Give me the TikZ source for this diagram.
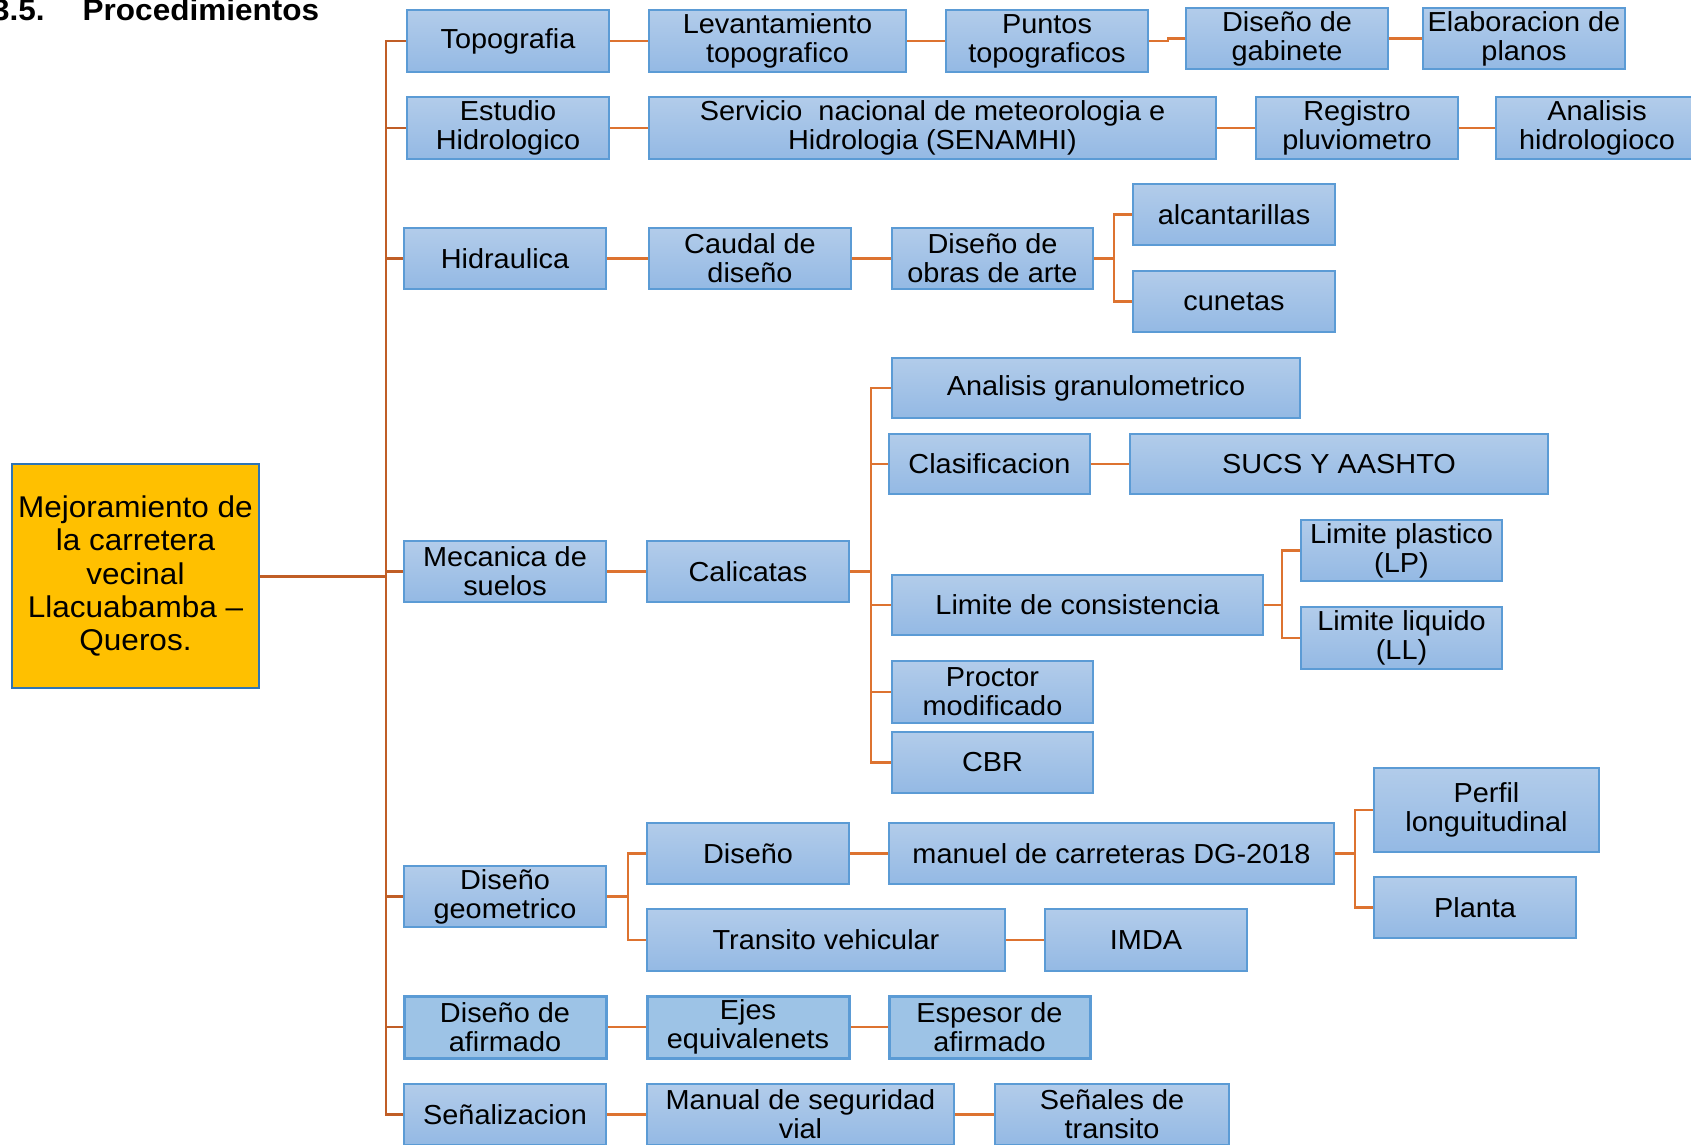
\documentclass[tikz,border=0pt]{standalone}
\usepackage{fontspec}
\setmainfont{Liberation Sans}[FakeStretch=1.05]
\usetikzlibrary{backgrounds}
\definecolor{boxtop}{RGB}{178,204,234}
\definecolor{boxbot}{RGB}{148,185,228}
\definecolor{boxline}{RGB}{91,155,213}
\definecolor{flatfill}{RGB}{157,195,230}
\definecolor{rootfill}{RGB}{255,192,0}
\definecolor{rootline}{RGB}{46,117,182}
\definecolor{trunkcol}{RGB}{192,94,38}
\definecolor{conncol}{RGB}{221,115,48}
\begin{document}
\begin{tikzpicture}[x=1pt,y=-1pt,
  box/.style={draw=boxline, line width=1.5pt, top color=boxtop, bottom color=boxbot,
    inner sep=2pt, align=center, font=\fontsize{27.5}{29}\selectfont},
  flatbox/.style={box, top color=flatfill, bottom color=flatfill, line width=3pt},
  rootbox/.style={draw=rootline, line width=1.5pt, fill=rootfill, inner sep=2pt,
    align=center, font=\fontsize{30}{33.4}\selectfont},
  conn/.style={draw=conncol, line width=2.5pt},
  trunk/.style={draw=trunkcol, line width=2.5pt},
  rootline/.style={draw=trunkcol, line width=3pt}]
\path[use as bounding box] (0,0) rectangle (1691,1145);

% title
\node[anchor=base west, inner sep=0pt, font=\fontsize{30}{32}\selectfont\bfseries] (title) at (-8,21) {3.5.\hspace{38pt}Procedimientos};

% root
\node[rootbox, minimum width=247pt, minimum height=224pt] (root) at (135.5,576) {Mejoramiento de\\la carretera\\vecinal\\Llacuabamba –\\Queros.};

% level 1
\node[box, minimum width=202pt, minimum height=62pt] (topo) at (508,41) {Topografia};
\node[box, minimum width=202pt, minimum height=62pt] (estudio) at (508,128) {Estudio\\Hidrologico};
\node[box, minimum width=202pt, minimum height=61pt] (hidra) at (505,258.5) {Hidraulica};
\node[box, minimum width=202pt, minimum height=61pt] (meca) at (505,571.5) {Mecanica de\\suelos};
\node[box, minimum width=202pt, minimum height=61pt] (disgeo) at (505,896.5) {Diseño\\geometrico};
\node[flatbox, minimum width=202pt, minimum height=62pt] (disafir) at (505,1027) {Diseño de\\afirmado};
\node[box, minimum width=202pt, minimum height=61pt] (senal) at (505,1114.5) {Señalizacion};

% topografia row
\node[box, minimum width=257pt, minimum height=62pt] (levant) at (777.5,41) {Levantamiento\\topografico};
\node[box, minimum width=202pt, minimum height=62pt] (puntos) at (1047,41) {Puntos\\topograficos};
\node[box, minimum width=202pt, minimum height=61pt] (gabin) at (1287,38.5) {Diseño de\\gabinete};
\node[box, minimum width=202pt, minimum height=61pt] (elab) at (1524,38.5) {Elaboracion de\\planos};

% hidrologico row
\node[box, minimum width=567pt, minimum height=62pt] (servicio) at (932.5,128) {Servicio\ \ nacional de meteorologia e\\Hidrologia (SENAMHI)};
\node[box, minimum width=202pt, minimum height=62pt] (registro) at (1357,128) {Registro\\pluviometro};
\node[box, minimum width=202pt, minimum height=62pt] (anahid) at (1597,128) {Analisis\\hidrologioco};

% hidraulica
\node[box, minimum width=202pt, minimum height=61pt] (caudal) at (750,258.5) {Caudal de\\diseño};
\node[box, minimum width=201pt, minimum height=61pt] (obras) at (992.5,258.5) {Diseño de\\obras de arte};
\node[box, minimum width=202pt, minimum height=61pt] (alcan) at (1234,214.5) {alcantarillas};
\node[box, minimum width=202pt, minimum height=61pt] (cunetas) at (1234,301.5) {cunetas};

% mecanica de suelos
\node[box, minimum width=202pt, minimum height=61pt] (calic) at (748,571.5) {Calicatas};
\node[box, minimum width=408pt, minimum height=60pt] (anagran) at (1096,388) {Analisis granulometrico};
\node[box, minimum width=201pt, minimum height=60pt] (clasif) at (989.5,464) {Clasificacion};
\node[box, minimum width=418pt, minimum height=60pt] (sucs) at (1339,464) {SUCS Y AASHTO};
\node[box, minimum width=371pt, minimum height=60pt] (limcons) at (1077.5,605) {Limite de consistencia};
\node[box, minimum width=201pt, minimum height=61pt] (lp) at (1401.5,550.5) {Limite plastico\\(LP)};
\node[box, minimum width=201pt, minimum height=62pt] (ll) at (1401.5,638) {Limite liquido\\(LL)};
\node[box, minimum width=201pt, minimum height=62pt] (proctor) at (992.5,692) {Proctor\\modificado};
\node[box, minimum width=201pt, minimum height=61pt] (cbr) at (992.5,762.5) {CBR};

% diseño geometrico
\node[box, minimum width=202pt, minimum height=61pt] (diseno) at (748,853.5) {Diseño};
\node[box, minimum width=445pt, minimum height=61pt] (manuel) at (1111.5,853.5) {manuel de carreteras DG-2018};
\node[box, minimum width=225pt, minimum height=84pt] (perfil) at (1486.5,810) {Perfil\\longuitudinal};
\node[box, minimum width=202pt, minimum height=61pt] (planta) at (1475,907.5) {Planta};
\node[box, minimum width=358pt, minimum height=62pt] (transito) at (826,940) {Transito vehicular};
\node[box, minimum width=202pt, minimum height=62pt] (imda) at (1146,940) {IMDA};

% afirmado
\node[flatbox, minimum width=202pt, minimum height=62pt] (ejes) at (748,1027) {Ejes\\equivalenets};
\node[flatbox, minimum width=201pt, minimum height=62pt] (espesor) at (989.5,1027) {Espesor de\\afirmado};

% señalizacion
\node[box, minimum width=307pt, minimum height=61pt] (manual) at (800.5,1114.5) {Manual de seguridad\\vial};
\node[box, minimum width=234pt, minimum height=61pt] (senales) at (1112,1114.5) {Señales de\\transito};

\begin{scope}[on background layer]
  \coordinate (tk) at (386,576);
  \draw[rootline] (root.east) -- (tk);
  \foreach \c in {topo,estudio,hidra,meca,disgeo,disafir,senal}
    \draw[trunk] (tk) |- (\c.west);

  \foreach \a/\b in {topo/levant, levant/puntos, gabin/elab, estudio/servicio,
      servicio/registro, registro/anahid, hidra/caudal, caudal/obras, meca/calic,
      clasif/sucs, diseno/manuel, transito/imda, disafir/ejes, ejes/espesor,
      senal/manual, manual/senales}
    \draw[conn] (\a.east) -- (\b.west);

  \draw[conn] (puntos.east) -- ++(19,0) |- (gabin.west);
  \foreach \b in {alcan,cunetas}
    \draw[conn] (obras.east) -- ++(20,0) |- (\b.west);
  \foreach \b in {anagran,clasif,limcons,proctor,cbr}
    \draw[conn] (calic.east) -- ++(21,0) |- (\b.west);
  \foreach \b in {lp,ll}
    \draw[conn] (limcons.east) -- ++(18,0) |- (\b.west);
  \foreach \b in {diseno,transito}
    \draw[conn] (disgeo.east) -- ++(21,0) |- (\b.west);
  \foreach \b in {perfil,planta}
    \draw[conn] (manuel.east) -- ++(20,0) |- (\b.west);
\end{scope}
\end{tikzpicture}
\end{document}
